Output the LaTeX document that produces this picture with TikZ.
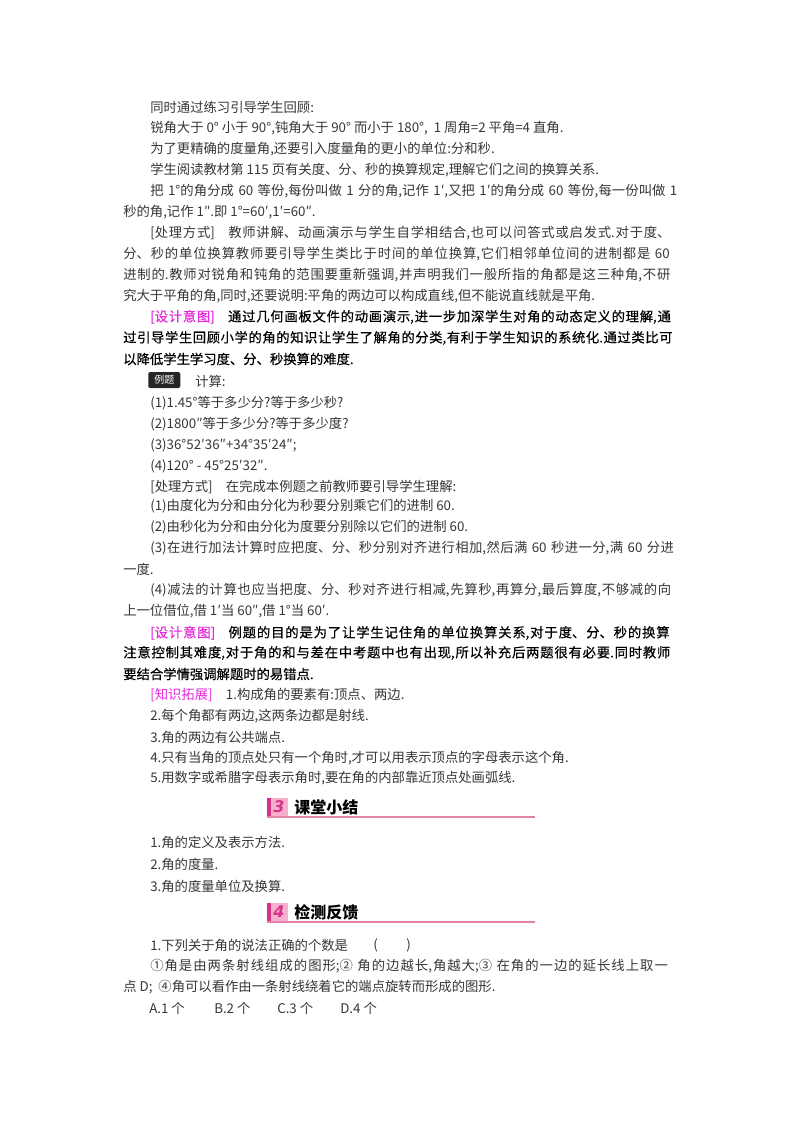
\documentclass[tikz,border=0pt]{standalone}
\usepackage{fontspec}
\setmainfont{Noto Sans CJK SC}
\newfontfamily\medf[FakeBold=0.5]{Noto Sans CJK SC}
\newfontfamily\numf{DejaVu Sans}
\XeTeXlinebreaklocale "zh"
\XeTeXlinebreakskip=0pt plus 2pt
\definecolor{mag}{RGB}{230,40,220}
\definecolor{body}{RGB}{55,55,55}
\definecolor{pinkline}{RGB}{228,130,170}
\definecolor{badge}{RGB}{246,175,205}
\definecolor{badgedark}{RGB}{215,50,140}
\newcommand\J[1]{{\parfillskip=0pt\relax #1\par}}
\newcommand\Mag[1]{{\color{mag}\mdseries #1}}
\tikzset{
  full/.style={anchor=west,inner sep=0pt,text width=416.25pt,font=\fontsize{10pt}{14pt}\selectfont,text=body},
  ind/.style={anchor=west,inner sep=0pt,text width=396pt,font=\fontsize{10pt}{14pt}\selectfont,text=body},
  free/.style={anchor=west,inner sep=0pt,font=\fontsize{10pt}{14pt}\selectfont,text=body},
  strong/.style={text=black,font=\fontsize{10pt}{14pt}\medf},
  hdr/.style={anchor=west,inner sep=0pt,font=\fontsize{12pt}{14pt}\selectfont\bfseries,text=black},
  num/.style={inner sep=0pt,font=\fontsize{12pt}{14pt}\numf\bfseries\itshape,text=badgedark}
}
\begin{document}
\begin{tikzpicture}[x=0.75pt,y=-0.75pt]
\useasboundingbox[fill=white] (0,0) rectangle (800,1132);
\node[free] (l1) at (150,107) {同时通过练习引导学生回顾:};
\node[free] (l2) at (150,128) {锐角大于 0° 小于 90°,钝角大于 90° 而小于 180°,~~1 周角=2 平角=4 直角.};
\node[free] (l3) at (150,149) {为了更精确的度量角,还要引入度量角的更小的单位:分和秒.};
\node[free] (l4) at (150,170) {学生阅读教材第 115 页有关度、分、秒的换算规定,理解它们之间的换算关系.};
\node[ind] (l5) at (150,191) {\J{把 1°的角分成 60 等份,每份叫做 1 分的角,记作 1′,又把 1′的角分成 60 等份,每一份叫做 1}};
\node[free] (l6) at (123,212) {秒的角,记作 1″.即 1°=60′,1′=60″.};
\node[ind] (l7) at (150,233) {\J{[处理方式]\quad 教师讲解、动画演示与学生自学相结合,也可以问答式或启发式.对于度、}};
\node[full] (l8) at (123,254) {\J{分、秒的单位换算教师要引导学生类比于时间的单位换算,它们相邻单位间的进制都是 60}};
\node[full] (l9) at (123,275) {\J{进制的.教师对锐角和钝角的范围要重新强调,并声明我们一般所指的角都是这三种角,不研}};
\node[free] (l10) at (123,296) {究大于平角的角,同时,还要说明:平角的两边可以构成直线,但不能说直线就是平角.};
\node[ind,strong] (l11) at (150,317) {\J{\Mag{[设计意图]}\quad 通过几何画板文件的动画演示,进一步加深学生对角的动态定义的理解,通}};
\node[full,strong] (l12) at (123,338) {\J{过引导学生回顾小学的角的知识让学生了解角的分类,有利于学生知识的系统化.通过类比可}};
\node[free,strong] (l13) at (123,359) {以降低学生学习度、分、秒换算的难度.};
\node[anchor=west,fill=black!85,rounded corners=1.5pt,minimum width=24pt,minimum height=12pt,inner sep=0pt,text=white,font=\fontsize{7.5pt}{8pt}\selectfont] (ex) at (148,380) {例题};
\node[free] (l14) at (195,381) {计算:};
\node[free] (l15) at (150,403) {(1)1.45°等于多少分?等于多少秒?};
\node[free] (l16) at (150,424) {(2)1800″等于多少分?等于多少度?};
\node[free] (l17) at (150,445) {(3)36°52′36″+34°35′24″;};
\node[free] (l18) at (150,466) {(4)120° - 45°25′32″.};
\node[free] (l19) at (150,487) {[处理方式]\quad 在完成本例题之前教师要引导学生理解:};
\node[free] (l20) at (150,506) {(1)由度化为分和由分化为秒要分别乘它们的进制 60.};
\node[free] (l21) at (150,527) {(2)由秒化为分和由分化为度要分别除以它们的进制 60.};
\node[ind] (l22) at (150,548) {\J{(3)在进行加法计算时应把度、分、秒分别对齐进行相加,然后满 60 秒进一分,满 60 分进}};
\node[free] (l23) at (123,569) {一度.};
\node[ind] (l24) at (150,590) {\J{(4)减法的计算也应当把度、分、秒对齐进行相减,先算秒,再算分,最后算度,不够减的向}};
\node[free] (l25) at (123,611) {上一位借位,借 1′当 60″,借 1°当 60′.};
\node[ind,strong] (l26) at (150,633) {\J{\Mag{[设计意图]}\quad 例题的目的是为了让学生记住角的单位换算关系,对于度、分、秒的换算}};
\node[full,strong] (l27) at (123,653) {\J{注意控制其难度,对于角的和与差在中考题中也有出现,所以补充后两题很有必要.同时教师}};
\node[free,strong] (l28) at (123,674) {要结合学情强调解题时的易错点.};
\node[free] (l29) at (150,695) {\Mag{[知识拓展]}\quad 1.构成角的要素有:顶点、两边.};
\node[free] (l30) at (150,716) {2.每个角都有两边,这两条边都是射线.};
\node[free] (l31) at (150,737) {3.角的两边有公共端点.};
\node[free] (l32) at (150,758) {4.只有当角的顶点处只有一个角时,才可以用表示顶点的字母表示这个角.};
\node[free] (l33) at (150,778) {5.用数字或希腊字母表示角时,要在角的内部靠近顶点处画弧线.};
% header 3
\fill[badge] (267,798) rectangle (288,817);
\fill[badgedark] (267,798) rectangle (271,817);
\node[num] (n3) at (279,807) {3};
\node[hdr] (h3) at (294,807) {课堂小结};
\draw[pinkline,line width=1.2pt] (267,817) -- (535,817);
\node[free] (l34) at (150,842) {1.角的定义及表示方法.};
\node[free] (l35) at (150,864) {2.角的度量.};
\node[free] (l36) at (150,886) {3.角的度量单位及换算.};
% header 4
\fill[badge] (267,903) rectangle (288,922);
\fill[badgedark] (267,903) rectangle (271,922);
\node[num] (n4) at (279,912) {4};
\node[hdr] (h4) at (294,912) {检测反馈};
\draw[pinkline,line width=1.2pt] (267,922) -- (535,922);
\node[free] (l37) at (150,945) {1.下列关于角的说法正确的个数是};
\node[free] (p1) at (373,945) {(};
\node[free] (p2) at (406,945) {)};
\node[ind] (l38) at (150,966) {\J{①角是由两条射线组成的图形;② 角的边越长,角越大;③ 在角的一边的延长线上取一}};
\node[free] (l39) at (123,987) {点 \textit{D};~ ④角可以看作由一条射线绕着它的端点旋转而形成的图形.};
\node[free] (a1) at (149,1008) {A.1 个};
\node[free] (a2) at (214,1008) {B.2 个};
\node[free] (a3) at (277,1008) {C.3 个};
\node[free] (a4) at (340,1008) {D.4 个};
\end{tikzpicture}
\end{document}
